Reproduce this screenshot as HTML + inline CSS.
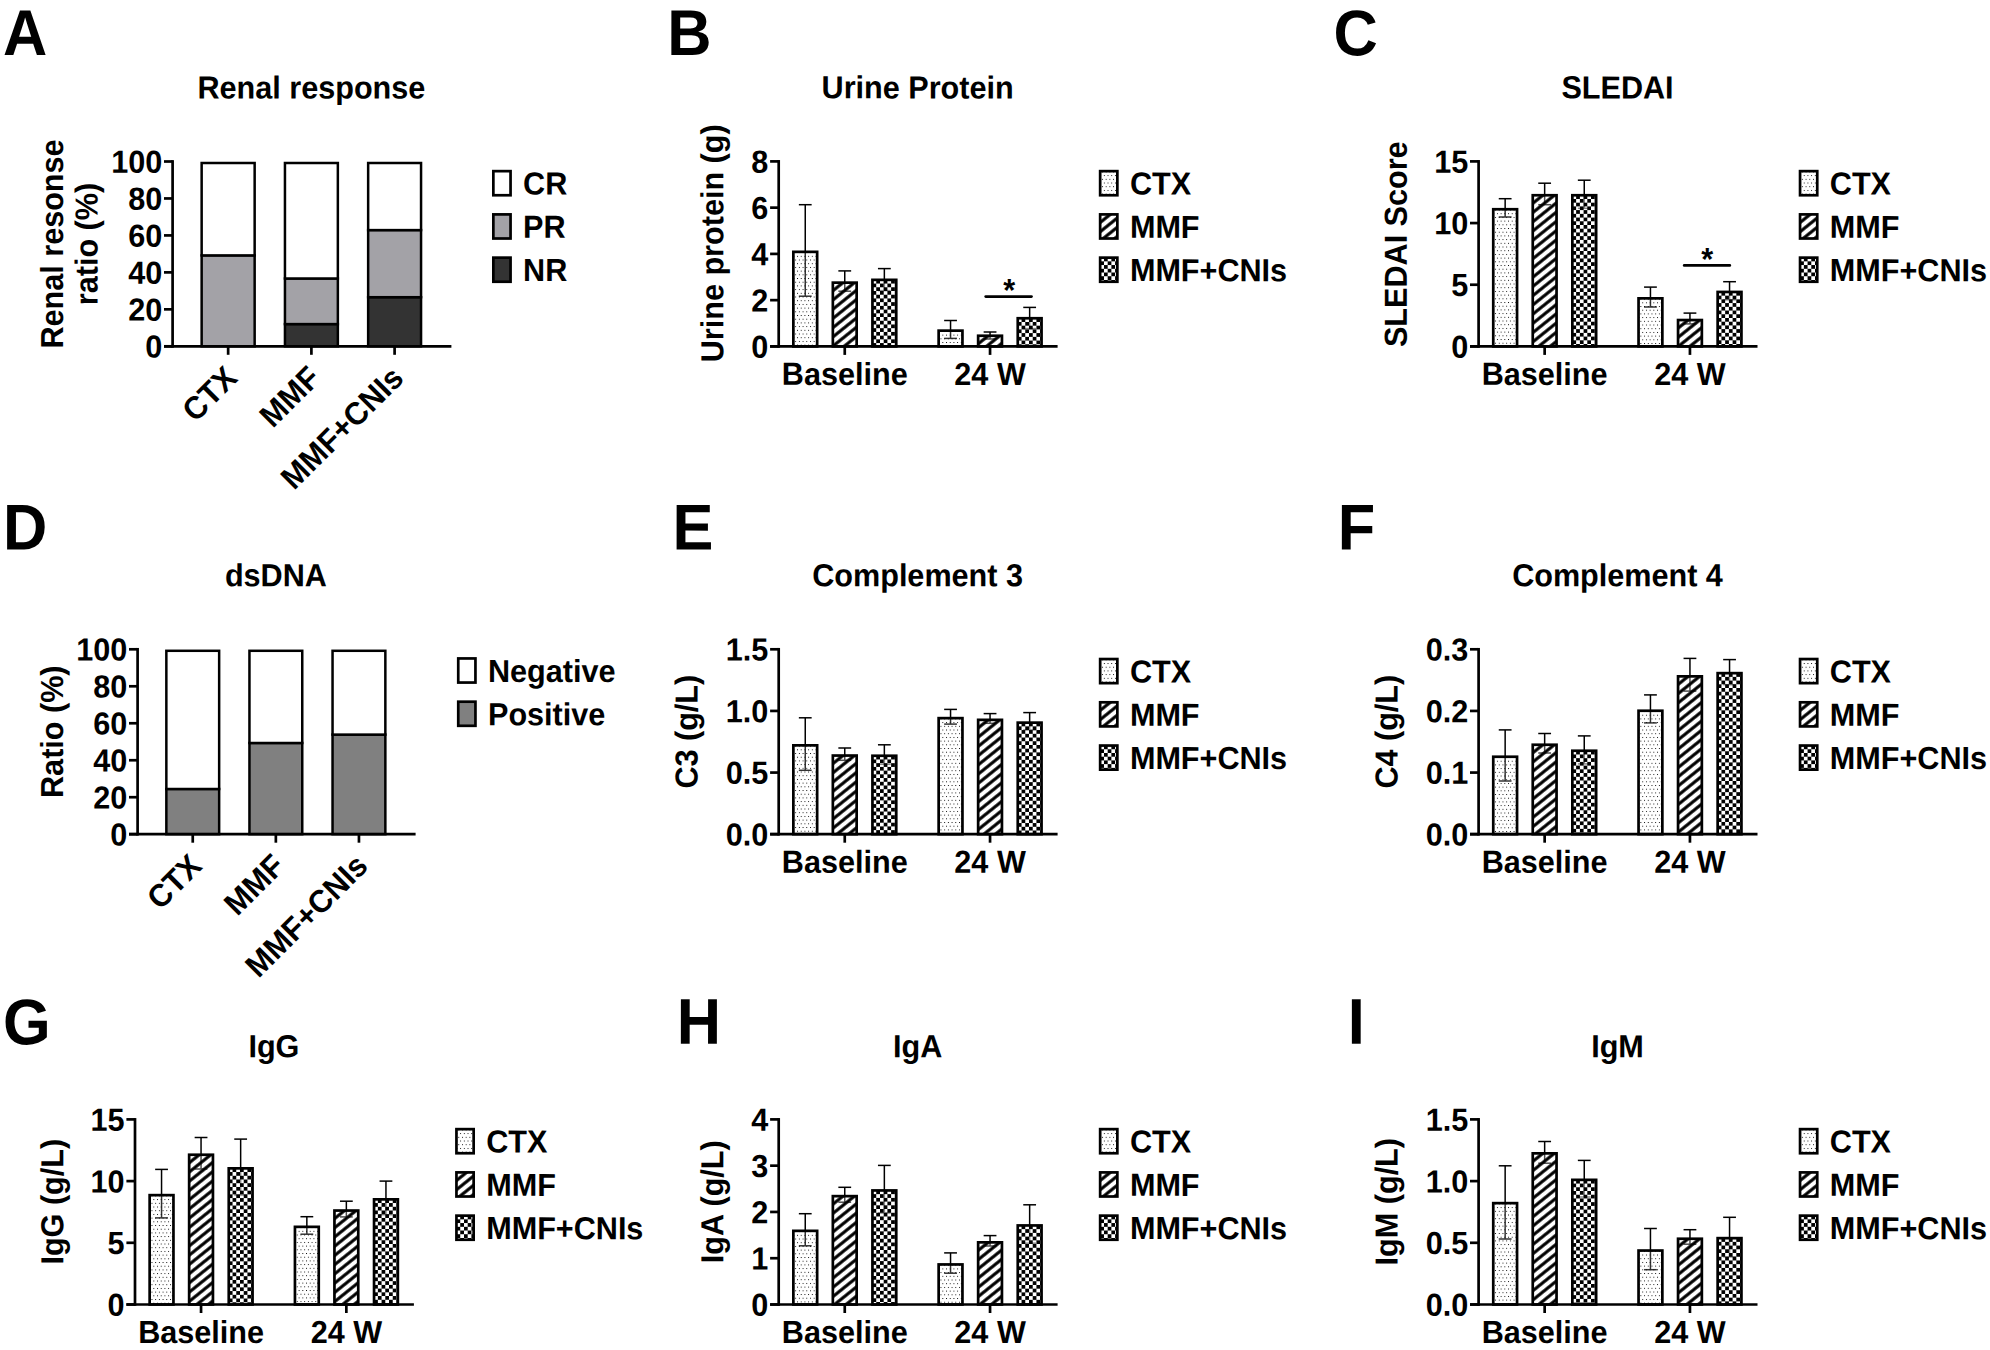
<!DOCTYPE html>
<html lang="en"><head><meta charset="utf-8"><title>Figure</title>
<style>html,body{margin:0;padding:0;background:#fff}svg{display:block}text{font-family:"Liberation Sans", Arial, Helvetica, sans-serif;font-weight:bold;fill:#000}</style></head><body>
<svg width="1990" height="1350" viewBox="0 0 1990 1350">
<defs>
<pattern id="dots" patternUnits="userSpaceOnUse" x="1.34" y="5.34" width="3.7" height="7.4"><rect width="3.7" height="7.4" fill="#fff" fill-opacity="0.2"/><rect x="0" y="0" width="0.95" height="0.95" fill="#111"/><rect x="1.85" y="3.7" width="0.95" height="0.95" fill="#111"/></pattern>
<pattern id="hatch" patternUnits="userSpaceOnUse" width="20" height="7.2" patternTransform="translate(0.44 5.59) rotate(-38.8)"><rect width="20" height="7.2" fill="#fff" fill-opacity="0.3"/><rect y="2.05" width="20" height="3.1" fill="#000"/></pattern>
<pattern id="check" patternUnits="userSpaceOnUse" x="1.43" y="1.34" width="7.44" height="7.44"><rect width="7.44" height="7.44" fill="#fff" fill-opacity="0.55"/><rect x="0" y="3.72" width="3.72" height="3.72" fill="#000"/><rect x="3.72" y="0" width="3.72" height="3.72" fill="#000"/></pattern>
</defs>
<rect width="1990" height="1350" fill="#fff"/>
<text transform="translate(2.97 54.90) rotate(0.03) scale(1 1.055)" font-size="61.3" text-anchor="start">A</text>
<text transform="translate(311.40 98.50) rotate(0.03) scale(1 1.04)" font-size="30.6" text-anchor="middle">Renal response</text>
<text transform="translate(63.00 244.00) rotate(-89.97) scale(1 1.04)" font-size="30.6" text-anchor="middle">Renal resonse</text>
<text transform="translate(97.50 244.00) rotate(-89.97) scale(1 1.04)" font-size="30.6" text-anchor="middle">ratio (%)</text>
<rect x="201.65" y="255.40" width="53.00" height="90.90" fill="#a3a2a7" stroke="#000" stroke-width="2.5"/>
<rect x="201.65" y="163.00" width="53.00" height="92.40" fill="#fff" stroke="#000" stroke-width="2.5"/>
<rect x="284.95" y="324.10" width="52.90" height="22.20" fill="#333333" stroke="#000" stroke-width="2.5"/>
<rect x="284.95" y="278.50" width="52.90" height="45.60" fill="#a3a2a7" stroke="#000" stroke-width="2.5"/>
<rect x="284.95" y="163.00" width="52.90" height="115.50" fill="#fff" stroke="#000" stroke-width="2.5"/>
<rect x="368.15" y="297.20" width="52.90" height="49.10" fill="#333333" stroke="#000" stroke-width="2.5"/>
<rect x="368.15" y="230.10" width="52.90" height="67.10" fill="#a3a2a7" stroke="#000" stroke-width="2.5"/>
<rect x="368.15" y="163.00" width="52.90" height="67.10" fill="#fff" stroke="#000" stroke-width="2.5"/>
<line x1="172.60" y1="160.15" x2="172.60" y2="347.65" stroke="#000" stroke-width="2.7"/>
<line x1="164.00" y1="346.30" x2="172.60" y2="346.30" stroke="#000" stroke-width="2.7"/>
<text transform="translate(162.20 357.60) rotate(0.03) scale(1 1.04)" font-size="30.6" text-anchor="end">0</text>
<line x1="164.00" y1="309.34" x2="172.60" y2="309.34" stroke="#000" stroke-width="2.7"/>
<text transform="translate(162.20 320.64) rotate(0.03) scale(1 1.04)" font-size="30.6" text-anchor="end">20</text>
<line x1="164.00" y1="272.38" x2="172.60" y2="272.38" stroke="#000" stroke-width="2.7"/>
<text transform="translate(162.20 283.68) rotate(0.03) scale(1 1.04)" font-size="30.6" text-anchor="end">40</text>
<line x1="164.00" y1="235.42" x2="172.60" y2="235.42" stroke="#000" stroke-width="2.7"/>
<text transform="translate(162.20 246.72) rotate(0.03) scale(1 1.04)" font-size="30.6" text-anchor="end">60</text>
<line x1="164.00" y1="198.46" x2="172.60" y2="198.46" stroke="#000" stroke-width="2.7"/>
<text transform="translate(162.20 209.76) rotate(0.03) scale(1 1.04)" font-size="30.6" text-anchor="end">80</text>
<line x1="164.00" y1="161.50" x2="172.60" y2="161.50" stroke="#000" stroke-width="2.7"/>
<text transform="translate(162.20 172.80) rotate(0.03) scale(1 1.04)" font-size="30.6" text-anchor="end">100</text>
<line x1="164.00" y1="346.30" x2="451.40" y2="346.30" stroke="#000" stroke-width="2.7"/>
<line x1="228.15" y1="346.30" x2="228.15" y2="354.80" stroke="#000" stroke-width="2.7"/>
<line x1="311.40" y1="346.30" x2="311.40" y2="354.80" stroke="#000" stroke-width="2.7"/>
<line x1="394.60" y1="346.30" x2="394.60" y2="354.80" stroke="#000" stroke-width="2.7"/>
<text transform="translate(238.85 379.90) rotate(-44.97) scale(1 1.04)" font-size="30.6" text-anchor="end">CTX</text>
<text transform="translate(322.10 379.90) rotate(-44.97) scale(1 1.04)" font-size="30.6" text-anchor="end">MMF</text>
<text transform="translate(405.30 379.90) rotate(-44.97) scale(1 1.04)" font-size="30.6" text-anchor="end">MMF+CNIs</text>
<g transform="translate(492.00 169.80)"><rect x="1.35" y="1.35" width="17.20" height="24.10" fill="#fff" stroke="#000" stroke-width="2.7"/></g>
<text transform="translate(523.10 194.60) rotate(0.03) scale(1 1.04)" font-size="30.6" text-anchor="start">CR</text>
<g transform="translate(492.00 213.05)"><rect x="1.35" y="1.35" width="17.20" height="24.10" fill="#a3a2a7" stroke="#000" stroke-width="2.7"/></g>
<text transform="translate(523.10 237.85) rotate(0.03) scale(1 1.04)" font-size="30.6" text-anchor="start">PR</text>
<g transform="translate(492.00 256.30)"><rect x="1.35" y="1.35" width="17.20" height="24.10" fill="#333333" stroke="#000" stroke-width="2.7"/></g>
<text transform="translate(523.10 281.10) rotate(0.03) scale(1 1.04)" font-size="30.6" text-anchor="start">NR</text>
<text transform="translate(3.10 549.50) rotate(0.03) scale(1 1.055)" font-size="61.3" text-anchor="start">D</text>
<text transform="translate(275.85 586.30) rotate(0.03) scale(1 1.04)" font-size="30.6" text-anchor="middle">dsDNA</text>
<text transform="translate(63.00 731.70) rotate(-89.97) scale(1 1.04)" font-size="30.6" text-anchor="middle">Ratio (%)</text>
<rect x="166.35" y="789.00" width="52.80" height="45.20" fill="#808080" stroke="#000" stroke-width="2.5"/>
<rect x="166.35" y="650.80" width="52.80" height="138.20" fill="#fff" stroke="#000" stroke-width="2.5"/>
<rect x="249.45" y="743.00" width="52.80" height="91.20" fill="#808080" stroke="#000" stroke-width="2.5"/>
<rect x="249.45" y="650.80" width="52.80" height="92.20" fill="#fff" stroke="#000" stroke-width="2.5"/>
<rect x="332.55" y="734.60" width="52.80" height="99.60" fill="#808080" stroke="#000" stroke-width="2.5"/>
<rect x="332.55" y="650.80" width="52.80" height="83.80" fill="#fff" stroke="#000" stroke-width="2.5"/>
<line x1="137.60" y1="647.95" x2="137.60" y2="835.55" stroke="#000" stroke-width="2.7"/>
<line x1="129.00" y1="834.20" x2="137.60" y2="834.20" stroke="#000" stroke-width="2.7"/>
<text transform="translate(127.20 845.50) rotate(0.03) scale(1 1.04)" font-size="30.6" text-anchor="end">0</text>
<line x1="129.00" y1="797.22" x2="137.60" y2="797.22" stroke="#000" stroke-width="2.7"/>
<text transform="translate(127.20 808.52) rotate(0.03) scale(1 1.04)" font-size="30.6" text-anchor="end">20</text>
<line x1="129.00" y1="760.24" x2="137.60" y2="760.24" stroke="#000" stroke-width="2.7"/>
<text transform="translate(127.20 771.54) rotate(0.03) scale(1 1.04)" font-size="30.6" text-anchor="end">40</text>
<line x1="129.00" y1="723.26" x2="137.60" y2="723.26" stroke="#000" stroke-width="2.7"/>
<text transform="translate(127.20 734.56) rotate(0.03) scale(1 1.04)" font-size="30.6" text-anchor="end">60</text>
<line x1="129.00" y1="686.28" x2="137.60" y2="686.28" stroke="#000" stroke-width="2.7"/>
<text transform="translate(127.20 697.58) rotate(0.03) scale(1 1.04)" font-size="30.6" text-anchor="end">80</text>
<line x1="129.00" y1="649.30" x2="137.60" y2="649.30" stroke="#000" stroke-width="2.7"/>
<text transform="translate(127.20 660.60) rotate(0.03) scale(1 1.04)" font-size="30.6" text-anchor="end">100</text>
<line x1="129.00" y1="834.20" x2="415.60" y2="834.20" stroke="#000" stroke-width="2.7"/>
<line x1="192.75" y1="834.20" x2="192.75" y2="842.70" stroke="#000" stroke-width="2.7"/>
<line x1="275.85" y1="834.20" x2="275.85" y2="842.70" stroke="#000" stroke-width="2.7"/>
<line x1="358.95" y1="834.20" x2="358.95" y2="842.70" stroke="#000" stroke-width="2.7"/>
<text transform="translate(203.45 867.80) rotate(-44.97) scale(1 1.04)" font-size="30.6" text-anchor="end">CTX</text>
<text transform="translate(286.55 867.80) rotate(-44.97) scale(1 1.04)" font-size="30.6" text-anchor="end">MMF</text>
<text transform="translate(369.65 867.80) rotate(-44.97) scale(1 1.04)" font-size="30.6" text-anchor="end">MMF+CNIs</text>
<g transform="translate(456.90 657.10)"><rect x="1.35" y="1.35" width="17.20" height="24.10" fill="#fff" stroke="#000" stroke-width="2.7"/></g>
<text transform="translate(488.00 681.90) rotate(0.03) scale(1 1.04)" font-size="30.6" text-anchor="start">Negative</text>
<g transform="translate(456.90 700.35)"><rect x="1.35" y="1.35" width="17.20" height="24.10" fill="#808080" stroke="#000" stroke-width="2.7"/></g>
<text transform="translate(488.00 725.15) rotate(0.03) scale(1 1.04)" font-size="30.6" text-anchor="start">Positive</text>
<text transform="translate(667.20 55.00) rotate(0.03) scale(1 1.055)" font-size="61.3" text-anchor="start">B</text>
<text transform="translate(917.60 98.40) rotate(0.03) scale(1 1.04)" font-size="30.6" text-anchor="middle">Urine Protein</text>
<text transform="translate(723.20 243.30) rotate(-89.97) scale(1 1.04)" font-size="30.6" text-anchor="middle">Urine protein (g)</text>
<line x1="805.25" y1="204.70" x2="805.25" y2="296.20" stroke="#000" stroke-width="1.5"/>
<line x1="798.85" y1="204.70" x2="811.65" y2="204.70" stroke="#000" stroke-width="1.5"/>
<line x1="798.85" y1="296.20" x2="811.65" y2="296.20" stroke="#000" stroke-width="1.5"/>
<line x1="844.75" y1="270.90" x2="844.75" y2="291.20" stroke="#000" stroke-width="1.5"/>
<line x1="838.35" y1="270.90" x2="851.15" y2="270.90" stroke="#000" stroke-width="1.5"/>
<line x1="838.35" y1="291.20" x2="851.15" y2="291.20" stroke="#000" stroke-width="1.5"/>
<line x1="884.35" y1="268.60" x2="884.35" y2="290.60" stroke="#000" stroke-width="1.5"/>
<line x1="877.95" y1="268.60" x2="890.75" y2="268.60" stroke="#000" stroke-width="1.5"/>
<line x1="877.95" y1="290.60" x2="890.75" y2="290.60" stroke="#000" stroke-width="1.5"/>
<line x1="950.55" y1="320.50" x2="950.55" y2="338.40" stroke="#000" stroke-width="1.5"/>
<line x1="944.15" y1="320.50" x2="956.95" y2="320.50" stroke="#000" stroke-width="1.5"/>
<line x1="944.15" y1="338.40" x2="956.95" y2="338.40" stroke="#000" stroke-width="1.5"/>
<line x1="990.05" y1="332.00" x2="990.05" y2="339.00" stroke="#000" stroke-width="1.5"/>
<line x1="983.65" y1="332.00" x2="996.45" y2="332.00" stroke="#000" stroke-width="1.5"/>
<line x1="983.65" y1="339.00" x2="996.45" y2="339.00" stroke="#000" stroke-width="1.5"/>
<line x1="1029.65" y1="307.40" x2="1029.65" y2="328.60" stroke="#000" stroke-width="1.5"/>
<line x1="1023.25" y1="307.40" x2="1036.05" y2="307.40" stroke="#000" stroke-width="1.5"/>
<line x1="1023.25" y1="328.60" x2="1036.05" y2="328.60" stroke="#000" stroke-width="1.5"/>
<g transform="translate(792.00 250.50)"><rect x="1.35" y="1.35" width="23.80" height="94.55" fill="url(#dots)" stroke="#000" stroke-width="2.7"/></g>
<g transform="translate(831.50 281.30)"><rect x="1.35" y="1.35" width="23.80" height="63.75" fill="url(#hatch)" stroke="#000" stroke-width="2.7"/></g>
<g transform="translate(871.10 278.50)"><rect x="1.35" y="1.35" width="23.80" height="66.55" fill="url(#check)" stroke="#000" stroke-width="2.7"/></g>
<g transform="translate(937.30 329.30)"><rect x="1.35" y="1.35" width="23.80" height="15.75" fill="url(#dots)" stroke="#000" stroke-width="2.7"/></g>
<g transform="translate(976.80 334.40)"><rect x="1.35" y="1.35" width="23.80" height="10.65" fill="url(#hatch)" stroke="#000" stroke-width="2.7"/></g>
<g transform="translate(1016.40 316.90)"><rect x="1.35" y="1.35" width="23.80" height="28.15" fill="url(#check)" stroke="#000" stroke-width="2.7"/></g>
<line x1="778.70" y1="160.05" x2="778.70" y2="347.75" stroke="#000" stroke-width="2.7"/>
<line x1="770.10" y1="346.40" x2="778.70" y2="346.40" stroke="#000" stroke-width="2.7"/>
<text transform="translate(768.30 357.70) rotate(0.03) scale(1 1.04)" font-size="30.6" text-anchor="end">0</text>
<line x1="770.10" y1="300.15" x2="778.70" y2="300.15" stroke="#000" stroke-width="2.7"/>
<text transform="translate(768.30 311.45) rotate(0.03) scale(1 1.04)" font-size="30.6" text-anchor="end">2</text>
<line x1="770.10" y1="253.90" x2="778.70" y2="253.90" stroke="#000" stroke-width="2.7"/>
<text transform="translate(768.30 265.20) rotate(0.03) scale(1 1.04)" font-size="30.6" text-anchor="end">4</text>
<line x1="770.10" y1="207.65" x2="778.70" y2="207.65" stroke="#000" stroke-width="2.7"/>
<text transform="translate(768.30 218.95) rotate(0.03) scale(1 1.04)" font-size="30.6" text-anchor="end">6</text>
<line x1="770.10" y1="161.40" x2="778.70" y2="161.40" stroke="#000" stroke-width="2.7"/>
<text transform="translate(768.30 172.70) rotate(0.03) scale(1 1.04)" font-size="30.6" text-anchor="end">8</text>
<line x1="770.10" y1="346.40" x2="1057.60" y2="346.40" stroke="#000" stroke-width="2.7"/>
<line x1="844.75" y1="346.40" x2="844.75" y2="354.90" stroke="#000" stroke-width="2.7"/>
<line x1="990.05" y1="346.40" x2="990.05" y2="354.90" stroke="#000" stroke-width="2.7"/>
<text transform="translate(844.75 384.90) rotate(0.03) scale(1 1.04)" font-size="30.6" text-anchor="middle">Baseline</text>
<text transform="translate(990.05 384.90) rotate(0.03) scale(1 1.04)" font-size="30.6" text-anchor="middle">24 W</text>
<g transform="translate(1098.80 169.80)"><rect x="1.35" y="1.35" width="17.20" height="24.10" fill="url(#dots)" stroke="#000" stroke-width="2.7"/></g>
<text transform="translate(1129.90 194.60) rotate(0.03) scale(1 1.04)" font-size="30.6" text-anchor="start">CTX</text>
<g transform="translate(1098.80 213.05)"><rect x="1.35" y="1.35" width="17.20" height="24.10" fill="url(#hatch)" stroke="#000" stroke-width="2.7"/></g>
<text transform="translate(1129.90 237.85) rotate(0.03) scale(1 1.04)" font-size="30.6" text-anchor="start">MMF</text>
<g transform="translate(1098.80 256.30)"><rect x="1.35" y="1.35" width="17.20" height="24.10" fill="url(#check)" stroke="#000" stroke-width="2.7"/></g>
<text transform="translate(1129.90 281.10) rotate(0.03) scale(1 1.04)" font-size="30.6" text-anchor="start">MMF+CNIs</text>
<line x1="985.70" y1="296.60" x2="1031.50" y2="296.60" stroke="#000" stroke-width="2.7" stroke-linecap="round"/>
<text transform="translate(1009.20 301.00) rotate(0.03) scale(1 1.04)" font-size="30.6" text-anchor="middle">*</text>
<text transform="translate(1333.39 55.20) rotate(0.03) scale(1 1.055)" font-size="61.3" text-anchor="start">C</text>
<text transform="translate(1617.50 98.40) rotate(0.03) scale(1 1.04)" font-size="30.6" text-anchor="middle">SLEDAI</text>
<text transform="translate(1406.80 244.20) rotate(-89.97) scale(1 1.04)" font-size="30.6" text-anchor="middle">SLEDAI Score</text>
<line x1="1505.15" y1="198.70" x2="1505.15" y2="217.00" stroke="#000" stroke-width="1.5"/>
<line x1="1498.75" y1="198.70" x2="1511.55" y2="198.70" stroke="#000" stroke-width="1.5"/>
<line x1="1498.75" y1="217.00" x2="1511.55" y2="217.00" stroke="#000" stroke-width="1.5"/>
<line x1="1544.65" y1="183.20" x2="1544.65" y2="204.70" stroke="#000" stroke-width="1.5"/>
<line x1="1538.25" y1="183.20" x2="1551.05" y2="183.20" stroke="#000" stroke-width="1.5"/>
<line x1="1538.25" y1="204.70" x2="1551.05" y2="204.70" stroke="#000" stroke-width="1.5"/>
<line x1="1584.25" y1="180.20" x2="1584.25" y2="208.30" stroke="#000" stroke-width="1.5"/>
<line x1="1577.85" y1="180.20" x2="1590.65" y2="180.20" stroke="#000" stroke-width="1.5"/>
<line x1="1577.85" y1="208.30" x2="1590.65" y2="208.30" stroke="#000" stroke-width="1.5"/>
<line x1="1650.45" y1="287.10" x2="1650.45" y2="307.00" stroke="#000" stroke-width="1.5"/>
<line x1="1644.05" y1="287.10" x2="1656.85" y2="287.10" stroke="#000" stroke-width="1.5"/>
<line x1="1644.05" y1="307.00" x2="1656.85" y2="307.00" stroke="#000" stroke-width="1.5"/>
<line x1="1689.95" y1="313.10" x2="1689.95" y2="323.90" stroke="#000" stroke-width="1.5"/>
<line x1="1683.55" y1="313.10" x2="1696.35" y2="313.10" stroke="#000" stroke-width="1.5"/>
<line x1="1683.55" y1="323.90" x2="1696.35" y2="323.90" stroke="#000" stroke-width="1.5"/>
<line x1="1729.55" y1="281.70" x2="1729.55" y2="299.80" stroke="#000" stroke-width="1.5"/>
<line x1="1723.15" y1="281.70" x2="1735.95" y2="281.70" stroke="#000" stroke-width="1.5"/>
<line x1="1723.15" y1="299.80" x2="1735.95" y2="299.80" stroke="#000" stroke-width="1.5"/>
<g transform="translate(1491.90 207.90)"><rect x="1.35" y="1.35" width="23.80" height="137.15" fill="url(#dots)" stroke="#000" stroke-width="2.7"/></g>
<g transform="translate(1531.40 193.90)"><rect x="1.35" y="1.35" width="23.80" height="151.15" fill="url(#hatch)" stroke="#000" stroke-width="2.7"/></g>
<g transform="translate(1571.00 193.90)"><rect x="1.35" y="1.35" width="23.80" height="151.15" fill="url(#check)" stroke="#000" stroke-width="2.7"/></g>
<g transform="translate(1637.20 297.00)"><rect x="1.35" y="1.35" width="23.80" height="48.05" fill="url(#dots)" stroke="#000" stroke-width="2.7"/></g>
<g transform="translate(1676.70 318.70)"><rect x="1.35" y="1.35" width="23.80" height="26.35" fill="url(#hatch)" stroke="#000" stroke-width="2.7"/></g>
<g transform="translate(1716.30 290.60)"><rect x="1.35" y="1.35" width="23.80" height="54.45" fill="url(#check)" stroke="#000" stroke-width="2.7"/></g>
<line x1="1478.60" y1="160.05" x2="1478.60" y2="347.75" stroke="#000" stroke-width="2.7"/>
<line x1="1470.00" y1="346.40" x2="1478.60" y2="346.40" stroke="#000" stroke-width="2.7"/>
<text transform="translate(1468.20 357.70) rotate(0.03) scale(1 1.04)" font-size="30.6" text-anchor="end">0</text>
<line x1="1470.00" y1="284.73" x2="1478.60" y2="284.73" stroke="#000" stroke-width="2.7"/>
<text transform="translate(1468.20 296.03) rotate(0.03) scale(1 1.04)" font-size="30.6" text-anchor="end">5</text>
<line x1="1470.00" y1="223.07" x2="1478.60" y2="223.07" stroke="#000" stroke-width="2.7"/>
<text transform="translate(1468.20 234.37) rotate(0.03) scale(1 1.04)" font-size="30.6" text-anchor="end">10</text>
<line x1="1470.00" y1="161.40" x2="1478.60" y2="161.40" stroke="#000" stroke-width="2.7"/>
<text transform="translate(1468.20 172.70) rotate(0.03) scale(1 1.04)" font-size="30.6" text-anchor="end">15</text>
<line x1="1470.00" y1="346.40" x2="1757.50" y2="346.40" stroke="#000" stroke-width="2.7"/>
<line x1="1544.65" y1="346.40" x2="1544.65" y2="354.90" stroke="#000" stroke-width="2.7"/>
<line x1="1689.95" y1="346.40" x2="1689.95" y2="354.90" stroke="#000" stroke-width="2.7"/>
<text transform="translate(1544.65 384.90) rotate(0.03) scale(1 1.04)" font-size="30.6" text-anchor="middle">Baseline</text>
<text transform="translate(1689.95 384.90) rotate(0.03) scale(1 1.04)" font-size="30.6" text-anchor="middle">24 W</text>
<g transform="translate(1798.70 169.80)"><rect x="1.35" y="1.35" width="17.20" height="24.10" fill="url(#dots)" stroke="#000" stroke-width="2.7"/></g>
<text transform="translate(1829.80 194.60) rotate(0.03) scale(1 1.04)" font-size="30.6" text-anchor="start">CTX</text>
<g transform="translate(1798.70 213.05)"><rect x="1.35" y="1.35" width="17.20" height="24.10" fill="url(#hatch)" stroke="#000" stroke-width="2.7"/></g>
<text transform="translate(1829.80 237.85) rotate(0.03) scale(1 1.04)" font-size="30.6" text-anchor="start">MMF</text>
<g transform="translate(1798.70 256.30)"><rect x="1.35" y="1.35" width="17.20" height="24.10" fill="url(#check)" stroke="#000" stroke-width="2.7"/></g>
<text transform="translate(1829.80 281.10) rotate(0.03) scale(1 1.04)" font-size="30.6" text-anchor="start">MMF+CNIs</text>
<line x1="1684.20" y1="265.40" x2="1729.80" y2="265.40" stroke="#000" stroke-width="2.7" stroke-linecap="round"/>
<text transform="translate(1707.10 270.00) rotate(0.03) scale(1 1.04)" font-size="30.6" text-anchor="middle">*</text>
<text transform="translate(672.50 549.50) rotate(0.03) scale(1 1.055)" font-size="61.3" text-anchor="start">E</text>
<text transform="translate(917.60 586.30) rotate(0.03) scale(1 1.04)" font-size="30.6" text-anchor="middle">Complement 3</text>
<text transform="translate(697.60 731.70) rotate(-89.97) scale(1 1.04)" font-size="30.6" text-anchor="middle">C3 (g/L)</text>
<line x1="805.25" y1="717.80" x2="805.25" y2="770.30" stroke="#000" stroke-width="1.5"/>
<line x1="798.85" y1="717.80" x2="811.65" y2="717.80" stroke="#000" stroke-width="1.5"/>
<line x1="798.85" y1="770.30" x2="811.65" y2="770.30" stroke="#000" stroke-width="1.5"/>
<line x1="844.75" y1="748.00" x2="844.75" y2="760.30" stroke="#000" stroke-width="1.5"/>
<line x1="838.35" y1="748.00" x2="851.15" y2="748.00" stroke="#000" stroke-width="1.5"/>
<line x1="838.35" y1="760.30" x2="851.15" y2="760.30" stroke="#000" stroke-width="1.5"/>
<line x1="884.35" y1="744.80" x2="884.35" y2="764.30" stroke="#000" stroke-width="1.5"/>
<line x1="877.95" y1="744.80" x2="890.75" y2="744.80" stroke="#000" stroke-width="1.5"/>
<line x1="877.95" y1="764.30" x2="890.75" y2="764.30" stroke="#000" stroke-width="1.5"/>
<line x1="950.55" y1="709.40" x2="950.55" y2="724.10" stroke="#000" stroke-width="1.5"/>
<line x1="944.15" y1="709.40" x2="956.95" y2="709.40" stroke="#000" stroke-width="1.5"/>
<line x1="944.15" y1="724.10" x2="956.95" y2="724.10" stroke="#000" stroke-width="1.5"/>
<line x1="990.05" y1="713.60" x2="990.05" y2="723.30" stroke="#000" stroke-width="1.5"/>
<line x1="983.65" y1="713.60" x2="996.45" y2="713.60" stroke="#000" stroke-width="1.5"/>
<line x1="983.65" y1="723.30" x2="996.45" y2="723.30" stroke="#000" stroke-width="1.5"/>
<line x1="1029.65" y1="712.60" x2="1029.65" y2="729.90" stroke="#000" stroke-width="1.5"/>
<line x1="1023.25" y1="712.60" x2="1036.05" y2="712.60" stroke="#000" stroke-width="1.5"/>
<line x1="1023.25" y1="729.90" x2="1036.05" y2="729.90" stroke="#000" stroke-width="1.5"/>
<g transform="translate(792.00 744.00)"><rect x="1.35" y="1.35" width="23.80" height="88.85" fill="url(#dots)" stroke="#000" stroke-width="2.7"/></g>
<g transform="translate(831.50 754.20)"><rect x="1.35" y="1.35" width="23.80" height="78.65" fill="url(#hatch)" stroke="#000" stroke-width="2.7"/></g>
<g transform="translate(871.10 754.40)"><rect x="1.35" y="1.35" width="23.80" height="78.45" fill="url(#check)" stroke="#000" stroke-width="2.7"/></g>
<g transform="translate(937.30 716.80)"><rect x="1.35" y="1.35" width="23.80" height="116.05" fill="url(#dots)" stroke="#000" stroke-width="2.7"/></g>
<g transform="translate(976.80 718.50)"><rect x="1.35" y="1.35" width="23.80" height="114.35" fill="url(#hatch)" stroke="#000" stroke-width="2.7"/></g>
<g transform="translate(1016.40 721.30)"><rect x="1.35" y="1.35" width="23.80" height="111.55" fill="url(#check)" stroke="#000" stroke-width="2.7"/></g>
<line x1="778.70" y1="647.95" x2="778.70" y2="835.55" stroke="#000" stroke-width="2.7"/>
<line x1="770.10" y1="834.20" x2="778.70" y2="834.20" stroke="#000" stroke-width="2.7"/>
<text transform="translate(768.30 845.50) rotate(0.03) scale(1 1.04)" font-size="30.6" text-anchor="end">0.0</text>
<line x1="770.10" y1="772.57" x2="778.70" y2="772.57" stroke="#000" stroke-width="2.7"/>
<text transform="translate(768.30 783.87) rotate(0.03) scale(1 1.04)" font-size="30.6" text-anchor="end">0.5</text>
<line x1="770.10" y1="710.93" x2="778.70" y2="710.93" stroke="#000" stroke-width="2.7"/>
<text transform="translate(768.30 722.23) rotate(0.03) scale(1 1.04)" font-size="30.6" text-anchor="end">1.0</text>
<line x1="770.10" y1="649.30" x2="778.70" y2="649.30" stroke="#000" stroke-width="2.7"/>
<text transform="translate(768.30 660.60) rotate(0.03) scale(1 1.04)" font-size="30.6" text-anchor="end">1.5</text>
<line x1="770.10" y1="834.20" x2="1057.60" y2="834.20" stroke="#000" stroke-width="2.7"/>
<line x1="844.75" y1="834.20" x2="844.75" y2="842.70" stroke="#000" stroke-width="2.7"/>
<line x1="990.05" y1="834.20" x2="990.05" y2="842.70" stroke="#000" stroke-width="2.7"/>
<text transform="translate(844.75 872.70) rotate(0.03) scale(1 1.04)" font-size="30.6" text-anchor="middle">Baseline</text>
<text transform="translate(990.05 872.70) rotate(0.03) scale(1 1.04)" font-size="30.6" text-anchor="middle">24 W</text>
<g transform="translate(1098.80 657.70)"><rect x="1.35" y="1.35" width="17.20" height="24.10" fill="url(#dots)" stroke="#000" stroke-width="2.7"/></g>
<text transform="translate(1129.90 682.50) rotate(0.03) scale(1 1.04)" font-size="30.6" text-anchor="start">CTX</text>
<g transform="translate(1098.80 700.95)"><rect x="1.35" y="1.35" width="17.20" height="24.10" fill="url(#hatch)" stroke="#000" stroke-width="2.7"/></g>
<text transform="translate(1129.90 725.75) rotate(0.03) scale(1 1.04)" font-size="30.6" text-anchor="start">MMF</text>
<g transform="translate(1098.80 744.20)"><rect x="1.35" y="1.35" width="17.20" height="24.10" fill="url(#check)" stroke="#000" stroke-width="2.7"/></g>
<text transform="translate(1129.90 769.00) rotate(0.03) scale(1 1.04)" font-size="30.6" text-anchor="start">MMF+CNIs</text>
<text transform="translate(1337.80 549.50) rotate(0.03) scale(1 1.055)" font-size="61.3" text-anchor="start">F</text>
<text transform="translate(1617.50 586.30) rotate(0.03) scale(1 1.04)" font-size="30.6" text-anchor="middle">Complement 4</text>
<text transform="translate(1397.60 731.70) rotate(-89.97) scale(1 1.04)" font-size="30.6" text-anchor="middle">C4 (g/L)</text>
<line x1="1505.15" y1="729.90" x2="1505.15" y2="781.00" stroke="#000" stroke-width="1.5"/>
<line x1="1498.75" y1="729.90" x2="1511.55" y2="729.90" stroke="#000" stroke-width="1.5"/>
<line x1="1498.75" y1="781.00" x2="1511.55" y2="781.00" stroke="#000" stroke-width="1.5"/>
<line x1="1544.65" y1="733.50" x2="1544.65" y2="753.00" stroke="#000" stroke-width="1.5"/>
<line x1="1538.25" y1="733.50" x2="1551.05" y2="733.50" stroke="#000" stroke-width="1.5"/>
<line x1="1538.25" y1="753.00" x2="1551.05" y2="753.00" stroke="#000" stroke-width="1.5"/>
<line x1="1584.25" y1="735.90" x2="1584.25" y2="763.90" stroke="#000" stroke-width="1.5"/>
<line x1="1577.85" y1="735.90" x2="1590.65" y2="735.90" stroke="#000" stroke-width="1.5"/>
<line x1="1577.85" y1="763.90" x2="1590.65" y2="763.90" stroke="#000" stroke-width="1.5"/>
<line x1="1650.45" y1="694.90" x2="1650.45" y2="722.90" stroke="#000" stroke-width="1.5"/>
<line x1="1644.05" y1="694.90" x2="1656.85" y2="694.90" stroke="#000" stroke-width="1.5"/>
<line x1="1644.05" y1="722.90" x2="1656.85" y2="722.90" stroke="#000" stroke-width="1.5"/>
<line x1="1689.95" y1="658.40" x2="1689.95" y2="691.10" stroke="#000" stroke-width="1.5"/>
<line x1="1683.55" y1="658.40" x2="1696.35" y2="658.40" stroke="#000" stroke-width="1.5"/>
<line x1="1683.55" y1="691.10" x2="1696.35" y2="691.10" stroke="#000" stroke-width="1.5"/>
<line x1="1729.55" y1="659.60" x2="1729.55" y2="684.70" stroke="#000" stroke-width="1.5"/>
<line x1="1723.15" y1="659.60" x2="1735.95" y2="659.60" stroke="#000" stroke-width="1.5"/>
<line x1="1723.15" y1="684.70" x2="1735.95" y2="684.70" stroke="#000" stroke-width="1.5"/>
<g transform="translate(1491.90 755.40)"><rect x="1.35" y="1.35" width="23.80" height="77.45" fill="url(#dots)" stroke="#000" stroke-width="2.7"/></g>
<g transform="translate(1531.40 743.40)"><rect x="1.35" y="1.35" width="23.80" height="89.45" fill="url(#hatch)" stroke="#000" stroke-width="2.7"/></g>
<g transform="translate(1571.00 749.40)"><rect x="1.35" y="1.35" width="23.80" height="83.45" fill="url(#check)" stroke="#000" stroke-width="2.7"/></g>
<g transform="translate(1637.20 709.40)"><rect x="1.35" y="1.35" width="23.80" height="123.45" fill="url(#dots)" stroke="#000" stroke-width="2.7"/></g>
<g transform="translate(1676.70 675.00)"><rect x="1.35" y="1.35" width="23.80" height="157.85" fill="url(#hatch)" stroke="#000" stroke-width="2.7"/></g>
<g transform="translate(1716.30 671.80)"><rect x="1.35" y="1.35" width="23.80" height="161.05" fill="url(#check)" stroke="#000" stroke-width="2.7"/></g>
<line x1="1478.60" y1="647.95" x2="1478.60" y2="835.55" stroke="#000" stroke-width="2.7"/>
<line x1="1470.00" y1="834.20" x2="1478.60" y2="834.20" stroke="#000" stroke-width="2.7"/>
<text transform="translate(1468.20 845.50) rotate(0.03) scale(1 1.04)" font-size="30.6" text-anchor="end">0.0</text>
<line x1="1470.00" y1="772.57" x2="1478.60" y2="772.57" stroke="#000" stroke-width="2.7"/>
<text transform="translate(1468.20 783.87) rotate(0.03) scale(1 1.04)" font-size="30.6" text-anchor="end">0.1</text>
<line x1="1470.00" y1="710.93" x2="1478.60" y2="710.93" stroke="#000" stroke-width="2.7"/>
<text transform="translate(1468.20 722.23) rotate(0.03) scale(1 1.04)" font-size="30.6" text-anchor="end">0.2</text>
<line x1="1470.00" y1="649.30" x2="1478.60" y2="649.30" stroke="#000" stroke-width="2.7"/>
<text transform="translate(1468.20 660.60) rotate(0.03) scale(1 1.04)" font-size="30.6" text-anchor="end">0.3</text>
<line x1="1470.00" y1="834.20" x2="1757.50" y2="834.20" stroke="#000" stroke-width="2.7"/>
<line x1="1544.65" y1="834.20" x2="1544.65" y2="842.70" stroke="#000" stroke-width="2.7"/>
<line x1="1689.95" y1="834.20" x2="1689.95" y2="842.70" stroke="#000" stroke-width="2.7"/>
<text transform="translate(1544.65 872.70) rotate(0.03) scale(1 1.04)" font-size="30.6" text-anchor="middle">Baseline</text>
<text transform="translate(1689.95 872.70) rotate(0.03) scale(1 1.04)" font-size="30.6" text-anchor="middle">24 W</text>
<g transform="translate(1798.70 657.70)"><rect x="1.35" y="1.35" width="17.20" height="24.10" fill="url(#dots)" stroke="#000" stroke-width="2.7"/></g>
<text transform="translate(1829.80 682.50) rotate(0.03) scale(1 1.04)" font-size="30.6" text-anchor="start">CTX</text>
<g transform="translate(1798.70 700.95)"><rect x="1.35" y="1.35" width="17.20" height="24.10" fill="url(#hatch)" stroke="#000" stroke-width="2.7"/></g>
<text transform="translate(1829.80 725.75) rotate(0.03) scale(1 1.04)" font-size="30.6" text-anchor="start">MMF</text>
<g transform="translate(1798.70 744.20)"><rect x="1.35" y="1.35" width="17.20" height="24.10" fill="url(#check)" stroke="#000" stroke-width="2.7"/></g>
<text transform="translate(1829.80 769.00) rotate(0.03) scale(1 1.04)" font-size="30.6" text-anchor="start">MMF+CNIs</text>
<text transform="translate(2.99 1044.20) rotate(0.03) scale(1 1.055)" font-size="61.3" text-anchor="start">G</text>
<text transform="translate(273.90 1057.20) rotate(0.03) scale(1 1.04)" font-size="30.6" text-anchor="middle">IgG</text>
<text transform="translate(63.20 1201.70) rotate(-89.97) scale(1 1.04)" font-size="30.6" text-anchor="middle">IgG (g/L)</text>
<line x1="161.55" y1="1169.40" x2="161.55" y2="1217.90" stroke="#000" stroke-width="1.5"/>
<line x1="155.15" y1="1169.40" x2="167.95" y2="1169.40" stroke="#000" stroke-width="1.5"/>
<line x1="155.15" y1="1217.90" x2="167.95" y2="1217.90" stroke="#000" stroke-width="1.5"/>
<line x1="201.05" y1="1137.50" x2="201.05" y2="1169.00" stroke="#000" stroke-width="1.5"/>
<line x1="194.65" y1="1137.50" x2="207.45" y2="1137.50" stroke="#000" stroke-width="1.5"/>
<line x1="194.65" y1="1169.00" x2="207.45" y2="1169.00" stroke="#000" stroke-width="1.5"/>
<line x1="240.65" y1="1139.10" x2="240.65" y2="1195.00" stroke="#000" stroke-width="1.5"/>
<line x1="234.25" y1="1139.10" x2="247.05" y2="1139.10" stroke="#000" stroke-width="1.5"/>
<line x1="234.25" y1="1195.00" x2="247.05" y2="1195.00" stroke="#000" stroke-width="1.5"/>
<line x1="306.85" y1="1216.70" x2="306.85" y2="1234.20" stroke="#000" stroke-width="1.5"/>
<line x1="300.45" y1="1216.70" x2="313.25" y2="1216.70" stroke="#000" stroke-width="1.5"/>
<line x1="300.45" y1="1234.20" x2="313.25" y2="1234.20" stroke="#000" stroke-width="1.5"/>
<line x1="346.35" y1="1201.20" x2="346.35" y2="1216.90" stroke="#000" stroke-width="1.5"/>
<line x1="339.95" y1="1201.20" x2="352.75" y2="1201.20" stroke="#000" stroke-width="1.5"/>
<line x1="339.95" y1="1216.90" x2="352.75" y2="1216.90" stroke="#000" stroke-width="1.5"/>
<line x1="385.95" y1="1181.10" x2="385.95" y2="1214.70" stroke="#000" stroke-width="1.5"/>
<line x1="379.55" y1="1181.10" x2="392.35" y2="1181.10" stroke="#000" stroke-width="1.5"/>
<line x1="379.55" y1="1214.70" x2="392.35" y2="1214.70" stroke="#000" stroke-width="1.5"/>
<g transform="translate(148.30 1193.80)"><rect x="1.35" y="1.35" width="23.80" height="109.35" fill="url(#dots)" stroke="#000" stroke-width="2.7"/></g>
<g transform="translate(187.80 1153.40)"><rect x="1.35" y="1.35" width="23.80" height="149.75" fill="url(#hatch)" stroke="#000" stroke-width="2.7"/></g>
<g transform="translate(227.40 1167.00)"><rect x="1.35" y="1.35" width="23.80" height="136.15" fill="url(#check)" stroke="#000" stroke-width="2.7"/></g>
<g transform="translate(293.60 1225.50)"><rect x="1.35" y="1.35" width="23.80" height="77.65" fill="url(#dots)" stroke="#000" stroke-width="2.7"/></g>
<g transform="translate(333.10 1209.20)"><rect x="1.35" y="1.35" width="23.80" height="93.95" fill="url(#hatch)" stroke="#000" stroke-width="2.7"/></g>
<g transform="translate(372.70 1198.00)"><rect x="1.35" y="1.35" width="23.80" height="105.15" fill="url(#check)" stroke="#000" stroke-width="2.7"/></g>
<line x1="135.00" y1="1118.05" x2="135.00" y2="1305.85" stroke="#000" stroke-width="2.7"/>
<line x1="126.40" y1="1304.50" x2="135.00" y2="1304.50" stroke="#000" stroke-width="2.7"/>
<text transform="translate(124.60 1315.80) rotate(0.03) scale(1 1.04)" font-size="30.6" text-anchor="end">0</text>
<line x1="126.40" y1="1242.80" x2="135.00" y2="1242.80" stroke="#000" stroke-width="2.7"/>
<text transform="translate(124.60 1254.10) rotate(0.03) scale(1 1.04)" font-size="30.6" text-anchor="end">5</text>
<line x1="126.40" y1="1181.10" x2="135.00" y2="1181.10" stroke="#000" stroke-width="2.7"/>
<text transform="translate(124.60 1192.40) rotate(0.03) scale(1 1.04)" font-size="30.6" text-anchor="end">10</text>
<line x1="126.40" y1="1119.40" x2="135.00" y2="1119.40" stroke="#000" stroke-width="2.7"/>
<text transform="translate(124.60 1130.70) rotate(0.03) scale(1 1.04)" font-size="30.6" text-anchor="end">15</text>
<line x1="126.40" y1="1304.50" x2="413.90" y2="1304.50" stroke="#000" stroke-width="2.7"/>
<line x1="201.05" y1="1304.50" x2="201.05" y2="1313.00" stroke="#000" stroke-width="2.7"/>
<line x1="346.35" y1="1304.50" x2="346.35" y2="1313.00" stroke="#000" stroke-width="2.7"/>
<text transform="translate(201.05 1343.00) rotate(0.03) scale(1 1.04)" font-size="30.6" text-anchor="middle">Baseline</text>
<text transform="translate(346.35 1343.00) rotate(0.03) scale(1 1.04)" font-size="30.6" text-anchor="middle">24 W</text>
<g transform="translate(455.10 1127.80)"><rect x="1.35" y="1.35" width="17.20" height="24.10" fill="url(#dots)" stroke="#000" stroke-width="2.7"/></g>
<text transform="translate(486.20 1152.60) rotate(0.03) scale(1 1.04)" font-size="30.6" text-anchor="start">CTX</text>
<g transform="translate(455.10 1171.05)"><rect x="1.35" y="1.35" width="17.20" height="24.10" fill="url(#hatch)" stroke="#000" stroke-width="2.7"/></g>
<text transform="translate(486.20 1195.85) rotate(0.03) scale(1 1.04)" font-size="30.6" text-anchor="start">MMF</text>
<g transform="translate(455.10 1214.30)"><rect x="1.35" y="1.35" width="17.20" height="24.10" fill="url(#check)" stroke="#000" stroke-width="2.7"/></g>
<text transform="translate(486.20 1239.10) rotate(0.03) scale(1 1.04)" font-size="30.6" text-anchor="start">MMF+CNIs</text>
<text transform="translate(676.70 1043.80) rotate(0.03) scale(1 1.055)" font-size="61.3" text-anchor="start">H</text>
<text transform="translate(917.60 1057.20) rotate(0.03) scale(1 1.04)" font-size="30.6" text-anchor="middle">IgA</text>
<text transform="translate(723.20 1201.70) rotate(-89.97) scale(1 1.04)" font-size="30.6" text-anchor="middle">IgA (g/L)</text>
<line x1="805.25" y1="1213.70" x2="805.25" y2="1245.80" stroke="#000" stroke-width="1.5"/>
<line x1="798.85" y1="1213.70" x2="811.65" y2="1213.70" stroke="#000" stroke-width="1.5"/>
<line x1="798.85" y1="1245.80" x2="811.65" y2="1245.80" stroke="#000" stroke-width="1.5"/>
<line x1="844.75" y1="1187.30" x2="844.75" y2="1202.20" stroke="#000" stroke-width="1.5"/>
<line x1="838.35" y1="1187.30" x2="851.15" y2="1187.30" stroke="#000" stroke-width="1.5"/>
<line x1="838.35" y1="1202.20" x2="851.15" y2="1202.20" stroke="#000" stroke-width="1.5"/>
<line x1="884.35" y1="1165.40" x2="884.35" y2="1213.00" stroke="#000" stroke-width="1.5"/>
<line x1="877.95" y1="1165.40" x2="890.75" y2="1165.40" stroke="#000" stroke-width="1.5"/>
<line x1="877.95" y1="1213.00" x2="890.75" y2="1213.00" stroke="#000" stroke-width="1.5"/>
<line x1="950.55" y1="1252.90" x2="950.55" y2="1273.20" stroke="#000" stroke-width="1.5"/>
<line x1="944.15" y1="1252.90" x2="956.95" y2="1252.90" stroke="#000" stroke-width="1.5"/>
<line x1="944.15" y1="1273.20" x2="956.95" y2="1273.20" stroke="#000" stroke-width="1.5"/>
<line x1="990.05" y1="1235.60" x2="990.05" y2="1246.00" stroke="#000" stroke-width="1.5"/>
<line x1="983.65" y1="1235.60" x2="996.45" y2="1235.60" stroke="#000" stroke-width="1.5"/>
<line x1="983.65" y1="1246.00" x2="996.45" y2="1246.00" stroke="#000" stroke-width="1.5"/>
<line x1="1029.65" y1="1204.80" x2="1029.65" y2="1243.20" stroke="#000" stroke-width="1.5"/>
<line x1="1023.25" y1="1204.80" x2="1036.05" y2="1204.80" stroke="#000" stroke-width="1.5"/>
<line x1="1023.25" y1="1243.20" x2="1036.05" y2="1243.20" stroke="#000" stroke-width="1.5"/>
<g transform="translate(792.00 1229.50)"><rect x="1.35" y="1.35" width="23.80" height="73.65" fill="url(#dots)" stroke="#000" stroke-width="2.7"/></g>
<g transform="translate(831.50 1194.80)"><rect x="1.35" y="1.35" width="23.80" height="108.35" fill="url(#hatch)" stroke="#000" stroke-width="2.7"/></g>
<g transform="translate(871.10 1189.10)"><rect x="1.35" y="1.35" width="23.80" height="114.05" fill="url(#check)" stroke="#000" stroke-width="2.7"/></g>
<g transform="translate(937.30 1263.10)"><rect x="1.35" y="1.35" width="23.80" height="40.05" fill="url(#dots)" stroke="#000" stroke-width="2.7"/></g>
<g transform="translate(976.80 1241.00)"><rect x="1.35" y="1.35" width="23.80" height="62.15" fill="url(#hatch)" stroke="#000" stroke-width="2.7"/></g>
<g transform="translate(1016.40 1224.10)"><rect x="1.35" y="1.35" width="23.80" height="79.05" fill="url(#check)" stroke="#000" stroke-width="2.7"/></g>
<line x1="778.70" y1="1118.05" x2="778.70" y2="1305.85" stroke="#000" stroke-width="2.7"/>
<line x1="770.10" y1="1304.50" x2="778.70" y2="1304.50" stroke="#000" stroke-width="2.7"/>
<text transform="translate(768.30 1315.80) rotate(0.03) scale(1 1.04)" font-size="30.6" text-anchor="end">0</text>
<line x1="770.10" y1="1258.22" x2="778.70" y2="1258.22" stroke="#000" stroke-width="2.7"/>
<text transform="translate(768.30 1269.52) rotate(0.03) scale(1 1.04)" font-size="30.6" text-anchor="end">1</text>
<line x1="770.10" y1="1211.95" x2="778.70" y2="1211.95" stroke="#000" stroke-width="2.7"/>
<text transform="translate(768.30 1223.25) rotate(0.03) scale(1 1.04)" font-size="30.6" text-anchor="end">2</text>
<line x1="770.10" y1="1165.68" x2="778.70" y2="1165.68" stroke="#000" stroke-width="2.7"/>
<text transform="translate(768.30 1176.98) rotate(0.03) scale(1 1.04)" font-size="30.6" text-anchor="end">3</text>
<line x1="770.10" y1="1119.40" x2="778.70" y2="1119.40" stroke="#000" stroke-width="2.7"/>
<text transform="translate(768.30 1130.70) rotate(0.03) scale(1 1.04)" font-size="30.6" text-anchor="end">4</text>
<line x1="770.10" y1="1304.50" x2="1057.60" y2="1304.50" stroke="#000" stroke-width="2.7"/>
<line x1="844.75" y1="1304.50" x2="844.75" y2="1313.00" stroke="#000" stroke-width="2.7"/>
<line x1="990.05" y1="1304.50" x2="990.05" y2="1313.00" stroke="#000" stroke-width="2.7"/>
<text transform="translate(844.75 1343.00) rotate(0.03) scale(1 1.04)" font-size="30.6" text-anchor="middle">Baseline</text>
<text transform="translate(990.05 1343.00) rotate(0.03) scale(1 1.04)" font-size="30.6" text-anchor="middle">24 W</text>
<g transform="translate(1098.80 1127.80)"><rect x="1.35" y="1.35" width="17.20" height="24.10" fill="url(#dots)" stroke="#000" stroke-width="2.7"/></g>
<text transform="translate(1129.90 1152.60) rotate(0.03) scale(1 1.04)" font-size="30.6" text-anchor="start">CTX</text>
<g transform="translate(1098.80 1171.05)"><rect x="1.35" y="1.35" width="17.20" height="24.10" fill="url(#hatch)" stroke="#000" stroke-width="2.7"/></g>
<text transform="translate(1129.90 1195.85) rotate(0.03) scale(1 1.04)" font-size="30.6" text-anchor="start">MMF</text>
<g transform="translate(1098.80 1214.30)"><rect x="1.35" y="1.35" width="17.20" height="24.10" fill="url(#check)" stroke="#000" stroke-width="2.7"/></g>
<text transform="translate(1129.90 1239.10) rotate(0.03) scale(1 1.04)" font-size="30.6" text-anchor="start">MMF+CNIs</text>
<text transform="translate(1347.80 1043.80) rotate(0.03) scale(1 1.055)" font-size="61.3" text-anchor="start">I</text>
<text transform="translate(1617.50 1057.20) rotate(0.03) scale(1 1.04)" font-size="30.6" text-anchor="middle">IgM</text>
<text transform="translate(1397.60 1201.70) rotate(-89.97) scale(1 1.04)" font-size="30.6" text-anchor="middle">IgM (g/L)</text>
<line x1="1505.15" y1="1165.80" x2="1505.15" y2="1239.00" stroke="#000" stroke-width="1.5"/>
<line x1="1498.75" y1="1165.80" x2="1511.55" y2="1165.80" stroke="#000" stroke-width="1.5"/>
<line x1="1498.75" y1="1239.00" x2="1511.55" y2="1239.00" stroke="#000" stroke-width="1.5"/>
<line x1="1544.65" y1="1141.50" x2="1544.65" y2="1163.20" stroke="#000" stroke-width="1.5"/>
<line x1="1538.25" y1="1141.50" x2="1551.05" y2="1141.50" stroke="#000" stroke-width="1.5"/>
<line x1="1538.25" y1="1163.20" x2="1551.05" y2="1163.20" stroke="#000" stroke-width="1.5"/>
<line x1="1584.25" y1="1160.40" x2="1584.25" y2="1197.00" stroke="#000" stroke-width="1.5"/>
<line x1="1577.85" y1="1160.40" x2="1590.65" y2="1160.40" stroke="#000" stroke-width="1.5"/>
<line x1="1577.85" y1="1197.00" x2="1590.65" y2="1197.00" stroke="#000" stroke-width="1.5"/>
<line x1="1650.45" y1="1228.50" x2="1650.45" y2="1269.70" stroke="#000" stroke-width="1.5"/>
<line x1="1644.05" y1="1228.50" x2="1656.85" y2="1228.50" stroke="#000" stroke-width="1.5"/>
<line x1="1644.05" y1="1269.70" x2="1656.85" y2="1269.70" stroke="#000" stroke-width="1.5"/>
<line x1="1689.95" y1="1229.70" x2="1689.95" y2="1244.20" stroke="#000" stroke-width="1.5"/>
<line x1="1683.55" y1="1229.70" x2="1696.35" y2="1229.70" stroke="#000" stroke-width="1.5"/>
<line x1="1683.55" y1="1244.20" x2="1696.35" y2="1244.20" stroke="#000" stroke-width="1.5"/>
<line x1="1729.55" y1="1217.30" x2="1729.55" y2="1256.90" stroke="#000" stroke-width="1.5"/>
<line x1="1723.15" y1="1217.30" x2="1735.95" y2="1217.30" stroke="#000" stroke-width="1.5"/>
<line x1="1723.15" y1="1256.90" x2="1735.95" y2="1256.90" stroke="#000" stroke-width="1.5"/>
<g transform="translate(1491.90 1201.80)"><rect x="1.35" y="1.35" width="23.80" height="101.35" fill="url(#dots)" stroke="#000" stroke-width="2.7"/></g>
<g transform="translate(1531.40 1152.00)"><rect x="1.35" y="1.35" width="23.80" height="151.15" fill="url(#hatch)" stroke="#000" stroke-width="2.7"/></g>
<g transform="translate(1571.00 1178.50)"><rect x="1.35" y="1.35" width="23.80" height="124.65" fill="url(#check)" stroke="#000" stroke-width="2.7"/></g>
<g transform="translate(1637.20 1249.20)"><rect x="1.35" y="1.35" width="23.80" height="53.95" fill="url(#dots)" stroke="#000" stroke-width="2.7"/></g>
<g transform="translate(1676.70 1237.40)"><rect x="1.35" y="1.35" width="23.80" height="65.75" fill="url(#hatch)" stroke="#000" stroke-width="2.7"/></g>
<g transform="translate(1716.30 1236.80)"><rect x="1.35" y="1.35" width="23.80" height="66.35" fill="url(#check)" stroke="#000" stroke-width="2.7"/></g>
<line x1="1478.60" y1="1118.05" x2="1478.60" y2="1305.85" stroke="#000" stroke-width="2.7"/>
<line x1="1470.00" y1="1304.50" x2="1478.60" y2="1304.50" stroke="#000" stroke-width="2.7"/>
<text transform="translate(1468.20 1315.80) rotate(0.03) scale(1 1.04)" font-size="30.6" text-anchor="end">0.0</text>
<line x1="1470.00" y1="1242.80" x2="1478.60" y2="1242.80" stroke="#000" stroke-width="2.7"/>
<text transform="translate(1468.20 1254.10) rotate(0.03) scale(1 1.04)" font-size="30.6" text-anchor="end">0.5</text>
<line x1="1470.00" y1="1181.10" x2="1478.60" y2="1181.10" stroke="#000" stroke-width="2.7"/>
<text transform="translate(1468.20 1192.40) rotate(0.03) scale(1 1.04)" font-size="30.6" text-anchor="end">1.0</text>
<line x1="1470.00" y1="1119.40" x2="1478.60" y2="1119.40" stroke="#000" stroke-width="2.7"/>
<text transform="translate(1468.20 1130.70) rotate(0.03) scale(1 1.04)" font-size="30.6" text-anchor="end">1.5</text>
<line x1="1470.00" y1="1304.50" x2="1757.50" y2="1304.50" stroke="#000" stroke-width="2.7"/>
<line x1="1544.65" y1="1304.50" x2="1544.65" y2="1313.00" stroke="#000" stroke-width="2.7"/>
<line x1="1689.95" y1="1304.50" x2="1689.95" y2="1313.00" stroke="#000" stroke-width="2.7"/>
<text transform="translate(1544.65 1343.00) rotate(0.03) scale(1 1.04)" font-size="30.6" text-anchor="middle">Baseline</text>
<text transform="translate(1689.95 1343.00) rotate(0.03) scale(1 1.04)" font-size="30.6" text-anchor="middle">24 W</text>
<g transform="translate(1798.70 1127.80)"><rect x="1.35" y="1.35" width="17.20" height="24.10" fill="url(#dots)" stroke="#000" stroke-width="2.7"/></g>
<text transform="translate(1829.80 1152.60) rotate(0.03) scale(1 1.04)" font-size="30.6" text-anchor="start">CTX</text>
<g transform="translate(1798.70 1171.05)"><rect x="1.35" y="1.35" width="17.20" height="24.10" fill="url(#hatch)" stroke="#000" stroke-width="2.7"/></g>
<text transform="translate(1829.80 1195.85) rotate(0.03) scale(1 1.04)" font-size="30.6" text-anchor="start">MMF</text>
<g transform="translate(1798.70 1214.30)"><rect x="1.35" y="1.35" width="17.20" height="24.10" fill="url(#check)" stroke="#000" stroke-width="2.7"/></g>
<text transform="translate(1829.80 1239.10) rotate(0.03) scale(1 1.04)" font-size="30.6" text-anchor="start">MMF+CNIs</text>
</svg></body></html>
